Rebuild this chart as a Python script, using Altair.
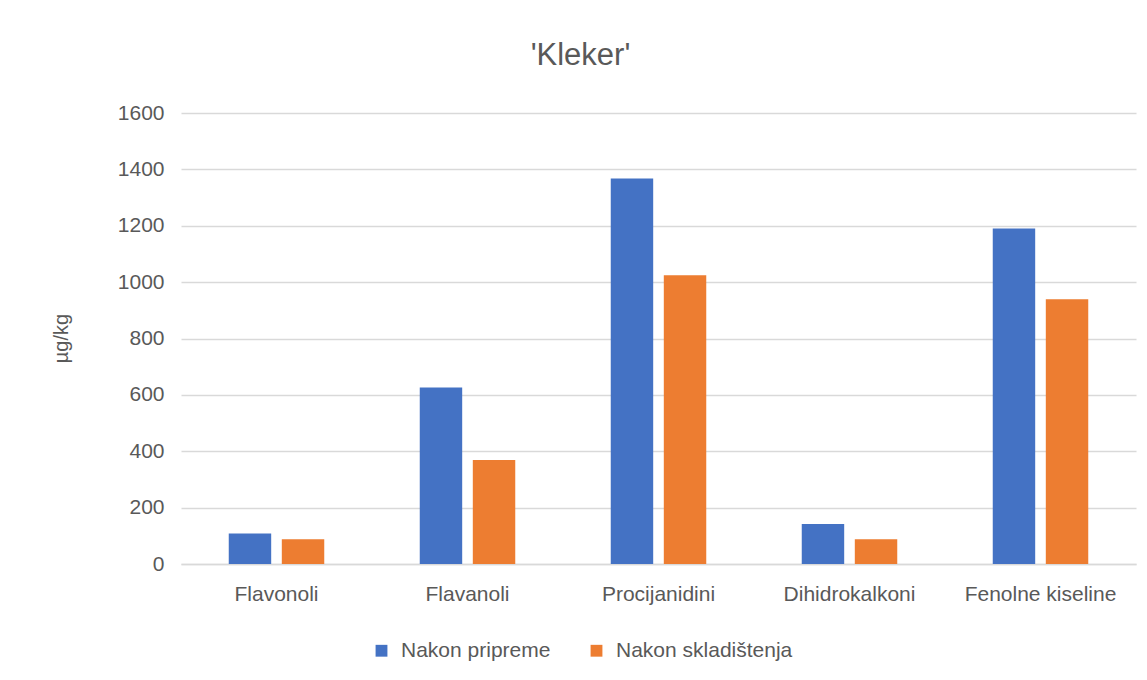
import altair as alt
import pandas as pd

categories = ["Flavonoli", "Flavanoli", "Procijanidini", "Dihidrokalkoni", "Fenolne kiseline"]
series_names = ["Nakon pripreme", "Nakon skladištenja"]
nakon_pripreme = [108, 626, 1368, 142, 1190]
nakon_skladistenja = [88, 369, 1024, 88, 939]
colors = ["#4472C4", "#ED7D31"]

rows = []
for c, a, b in zip(categories, nakon_pripreme, nakon_skladistenja):
    rows.append({"kategorija": c, "serija": series_names[0], "vrijednost": a})
    rows.append({"kategorija": c, "serija": series_names[1], "vrijednost": b})
df = pd.DataFrame(rows)

FONT = "Liberation Sans"
GREY = "#595959"

chart = alt.Chart(df).mark_bar().encode(
    x=alt.X("kategorija:N", sort=categories,
            scale=alt.Scale(paddingInner=0.5, paddingOuter=0.25),
            axis=alt.Axis(title=None, labelAngle=0, labelFontSize=21, labelColor=GREY,
                          labelFont=FONT, labelPadding=19, ticks=False,
                          domain=True, domainColor="#d9d9d9", domainWidth=1.5,
                          grid=False)),
    xOffset=alt.XOffset("serija:N", sort=series_names,
                        scale=alt.Scale(paddingInner=0.2, paddingOuter=0)),
    y=alt.Y("vrijednost:Q",
            scale=alt.Scale(domain=[0, 1600], nice=False),
            axis=alt.Axis(title="µg/kg", values=[0, 200, 400, 600, 800, 1000, 1200, 1400, 1600],
                          format="d",
                          labelFontSize=21, labelColor=GREY, labelFont=FONT,
                          labelPadding=17, ticks=False, domain=False,
                          gridColor="#d9d9d9", gridWidth=1.5,
                          titleFont=FONT, titleFontSize=20, titleColor=GREY,
                          titleFontWeight="normal", titleAngle=-90,
                          titleX=-120, titleY=225, titleBaseline="middle", titleAlign="center")),
    color=alt.Color("serija:N", sort=series_names,
                    scale=alt.Scale(domain=series_names, range=colors),
                    legend=alt.Legend(title=None, orient="none", direction="horizontal",
                                      legendX=190, legendY=527,
                                      symbolType="square", symbolSize=140,
                                      symbolStrokeWidth=0, labelLimit=400,
                                      labelFontSize=21, labelColor=GREY, labelFont=FONT,
                                      labelOffset=9, columnPadding=35)),
).properties(
    width=955,
    height=451,
    title=alt.TitleParams("'Kleker'", fontSize=31, font=FONT, color=GREY,
                          fontWeight="normal", anchor="middle", dx=-78, offset=6,
                          baseline="alphabetic"),
    autosize=alt.AutoSizeParams(type="none"),
    padding={"left": 173, "top": 105, "right": 3, "bottom": 100},
    background="white",
).configure_view(stroke=None)

chart.save("out.html", embed_options={"renderer": "svg", "actions": False})
